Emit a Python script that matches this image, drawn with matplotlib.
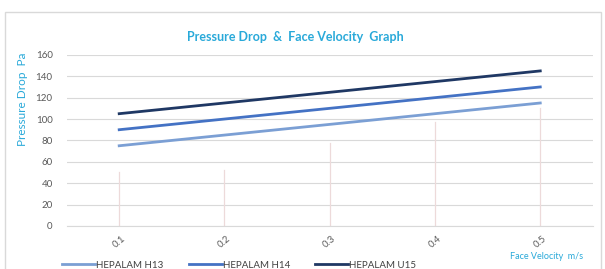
import matplotlib
matplotlib.use("Agg")
from matplotlib import pyplot as plt
from matplotlib.patches import Rectangle

plt.rcParams['font.family'] = ['Lato', 'DejaVu Sans']

# data
velocity = ["0.1", "0.2", "0.3", "0.4", "0.5"]
h13 = [75, 85, 95, 105, 115]
h14 = [90, 100, 110, 120, 130]
u15 = [105, 115, 125, 135, 145]
drop_tops = [50, 52, 78, 97, 110]   # faint vertical lines under each category

accent = "#29a9d9"
x = list(range(len(velocity)))

fig = plt.figure(figsize=(6.05, 2.69), dpi=100)
fig.patches.append(Rectangle((0.008, -0.02), 0.985, 0.975, transform=fig.transFigure,
                             fill=False, edgecolor="#d9d9d9", linewidth=1.0))

ax = fig.add_axes([0.110, 0.160, 0.870, 0.636])

for xi, top in zip(x, drop_tops):
    ax.plot([xi, xi], [0, top], color="#eddada", linewidth=0.9, zorder=1)

ax.plot(x, h13, color="#7b9fd4", linewidth=2.0, label="HEPALAM H13", zorder=3)
ax.plot(x, h14, color="#4472c4", linewidth=2.0, label="HEPALAM H14", zorder=3)
ax.plot(x, u15, color="#1f3864", linewidth=2.0, label="HEPALAM U15", zorder=3)

ax.set_xlim(-0.5, len(velocity) - 0.5)
ax.set_ylim(0, 160)
ax.set_yticks(range(0, 161, 20))
ax.set_xticks(x)
ax.set_xticklabels(velocity, rotation=40, ha="center", fontsize=7, color="#595959")
ax.tick_params(axis="y", labelsize=7, labelcolor="#595959", length=0, pad=10)
ax.tick_params(axis="x", length=0, pad=6)
ax.grid(axis="y", color="#d9d9d9", linewidth=0.8)
ax.set_axisbelow(True)
for s in ["top", "right", "left"]:
    ax.spines[s].set_visible(False)
ax.spines["bottom"].set_color("#d9d9d9")

fig.text(0.488, 0.862, "Pressure Drop  &  Face Velocity  Graph", color=accent,
         fontsize=9, fontweight="bold", ha="center", va="center")
fig.text(0.037, 0.63, "Pressure Drop  Pa", color=accent, fontsize=8.5,
         rotation=90, ha="center", va="center")
fig.text(0.903, 0.045, "Face Velocity  m/s", color=accent, fontsize=6.5,
         ha="center", va="center")

fig.legend(loc="lower left", bbox_to_anchor=(0.088, -0.035), ncol=3, frameon=False,
           fontsize=7, labelcolor="#404040", handlelength=3.4, handletextpad=0.1,
           columnspacing=2.6)

fig.savefig("out.png", dpi=100)
